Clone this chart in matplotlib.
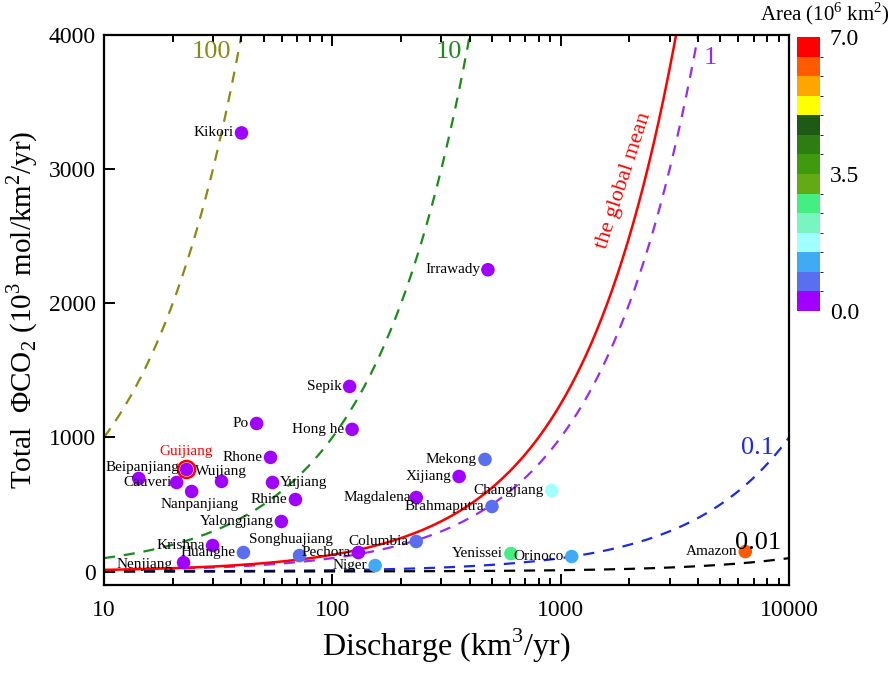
import numpy as np
import matplotlib.pyplot as plt
from matplotlib.colors import ListedColormap, BoundaryNorm

plt.rcParams['font.family'] = ['Liberation Serif', 'DejaVu Serif']
plt.rcParams['mathtext.fontset'] = 'custom'
plt.rcParams['mathtext.rm'] = 'Liberation Serif'

# river data: discharge (km3/yr), total CO2 flux (10^3 mol/km2/yr), area (10^6 km2)
rivers = ['Kikori', 'Irrawady', 'Sepik', 'Hong he', 'Po', 'Guijiang', 'Beipanjiang',
          'Cauveri', 'Wujiang', 'Nanpanjiang', 'Rhone', 'Yujiang', 'Rhine', 'Yalongjiang',
          'Krishna', 'Huanghe', 'Nenjiang', 'Songhuajiang', 'Pechora', 'Columbia', 'Niger',
          'Magdalena', 'Xijiang', 'Mekong', 'Brahmaputra', 'Changjiang', 'Yenissei',
          'Orinoco', 'Amazon']
discharge = [40, 480, 119, 122, 46.6, 23, 14.2,
             20.8, 32.7, 24.2, 53.6, 54.7, 68.9, 59.8,
             29.9, 40.8, 22.3, 71.8, 130, 233, 154,
             233, 359, 466, 500, 914, 605,
             1117, 6430]
flux = [3270, 2250, 1380, 1060, 1104, 761, 694,
        664, 672, 597, 851, 664, 537, 373,
        194, 142, 67, 119, 142, 224, 45,
        552, 709, 836, 485, 604, 134,
        112, 149]
area = [0.01, 0.41, 0.08, 0.16, 0.07, 0.02, 0.03,
        0.08, 0.09, 0.06, 0.10, 0.09, 0.16, 0.13,
        0.26, 0.75, 0.30, 0.56, 0.32, 0.67, 1.2,
        0.26, 0.35, 0.80, 0.58, 1.8, 2.6,
        1.1, 6.1]

# reference lines: flux = k * discharge
ratios = [100, 10, 1, 0.1, 0.01]
ratio_labels = ['100', '10', '1', '0.1', '0.01']
ratio_colors = ['#8a8a10', '#1a8a1a', '#9a2af0', '#1a2ae6', 'black']
global_mean = 1.25

area_colors = ['#a000ff', '#5a6ef0', '#41aaf5', '#a0ffff', '#78f5c0', '#45ee82', '#64aa14',
               '#3f9a0f', '#2d7d12', '#1e5a14', '#ffff00', '#ffa500', '#ff5a00', '#ff0000']
area_bounds = np.arange(0, 7.01, 0.5)

# label offsets in pixels (dx, dy up) and alignment; default is left of the point
label_pos = {
    'Guijiang': (-1, 18, 'center'),
    'Beipanjiang': (4, 11, 'center'),
    'Wujiang': (-1, 10, 'center'),
    'Nanpanjiang': (8, -13, 'center'),
    'Yujiang': (7, 0, 'left'),
    'Songhuajiang': (-9, 16, 'center'),
    'Magdalena': (-5, 0, 'right'),
    'Cauveri': (-5, 0, 'right'),
    'Nenjiang': (-11, -2, 'right'),
}

fig = plt.figure(figsize=(8.92, 6.73), dpi=100)
ax = fig.add_axes([0.1166, 0.1308, 0.768, 0.8172])

xs = np.logspace(1, 4, 400)
for k, c in zip(ratios, ratio_colors):
    ax.plot(xs, k * xs, ls=(0, (5, 4)), color=c, lw=1.6, zorder=1)
ax.plot(xs, global_mean * xs, color='#ff0000', lw=1.8, zorder=1)

cmap = ListedColormap(area_colors)
norm = BoundaryNorm(area_bounds, cmap.N)
sc = ax.scatter(discharge, flux, c=area, cmap=cmap, norm=norm, s=95, zorder=3,
                edgecolors='none')
gi = rivers.index('Guijiang')
ax.scatter([discharge[gi]], [flux[gi]], s=150, facecolors='none', edgecolors='#ff0000',
           linewidths=1.8, zorder=4)

for name, x, y in zip(rivers, discharge, flux):
    dx, dy, ha = label_pos.get(name, (-8, 0, 'right'))
    col = '#ff0000' if name == 'Guijiang' else 'black'
    ax.annotate(name, (x, y), xytext=(dx * 0.72, dy * 0.72), textcoords='offset points',
                ha=ha, va='center', fontsize=11, color=col, zorder=5)

# curve labels
lab_xy = [(29.4, 3873), (324, 3873), (4508, 3828), (7244, 918), (7328, 216)]
for (lx, ly), t, c in zip(lab_xy, ratio_labels, ratio_colors):
    ax.text(lx, ly, t, color=c, fontsize=19, ha='center', va='center')
ax.text(1900, 2918, 'the global mean', color='#ff0000', fontsize=16, rotation=72,
        ha='center', va='center')

ax.set_xscale('log')
ax.set_xlim(10, 10000)
ax.set_ylim(-100, 4000)
ax.set_yticks([0, 1000, 2000, 3000, 4000])
ax.set_xticks([10, 100, 1000, 10000])
ax.set_xticklabels(['10', '100', '1000', '10000'])
ax.tick_params(axis='both', which='both', direction='in', top=True, right=False,
               width=1.4, labelsize=17)
ax.tick_params(axis='x', which='major', length=8, pad=11)
ax.tick_params(axis='x', which='minor', length=5)
ax.tick_params(axis='y', which='major', length=8, pad=6)
for sp in ax.spines.values():
    sp.set_linewidth(1.6)

ax.set_xlabel('Discharge (km$^3$/yr)', fontsize=23, labelpad=4)
ax.set_ylabel('Total  $\\Phi$CO$_2$ (10$^3$ mol/km$^2$/yr)', fontsize=21, labelpad=6)

cax = fig.add_axes([0.8935, 0.5379, 0.0258, 0.4071])
cb = fig.colorbar(sc, cax=cax, ticks=[0, 3.5, 7])
cb.ax.set_yticklabels(['0.0', '3.5', '7.0'])
cb.ax.tick_params(length=0, labelsize=17, pad=7)
cb.outline.set_visible(False)
fig.text(0.998, 0.979, 'Area (10$^6$ km$^2$)', ha='right', va='center', fontsize=15)

fig.savefig('out.png', dpi=100)
